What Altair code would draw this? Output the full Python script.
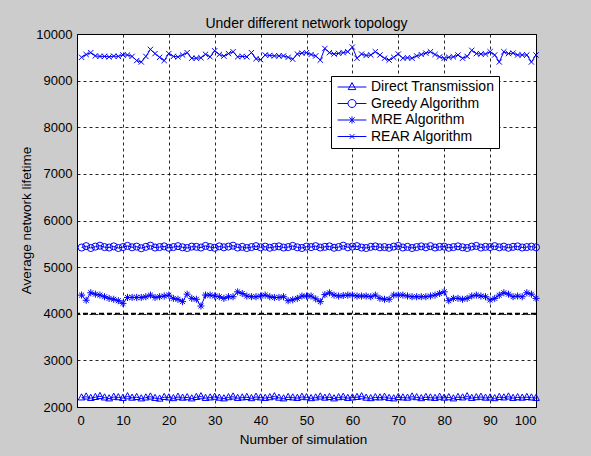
import altair as alt
import pandas as pd

runs = list(range(1, 101))
series_names = ["Direct Transmission", "Greedy Algorithm", "MRE Algorithm", "REAR Algorithm"]

direct = [2200, 2220, 2190, 2210, 2230, 2200, 2180, 2215, 2205, 2190,
          2225, 2195, 2210, 2180, 2200, 2220, 2190, 2175, 2210, 2200,
          2185, 2215, 2195, 2205, 2180, 2210, 2225, 2190, 2200, 2215,
          2195, 2180, 2205, 2220, 2190, 2200, 2210, 2185, 2215, 2200,
          2190, 2205, 2225, 2195, 2180, 2210, 2200, 2190, 2215, 2205,
          2185, 2200, 2220, 2195, 2210, 2180, 2205, 2215, 2190, 2200,
          2210, 2225, 2195, 2185, 2205, 2200, 2215, 2190, 2180, 2210,
          2200, 2195, 2220, 2205, 2185, 2210, 2200, 2190, 2215, 2195,
          2205, 2180, 2210, 2200, 2225, 2190, 2205, 2215, 2195, 2200,
          2185, 2210, 2200, 2220, 2190, 2205, 2195, 2210, 2200, 2190]

greedy = [5420, 5450, 5410, 5440, 5460, 5430, 5420, 5445, 5410, 5430,
          5455, 5425, 5440, 5405, 5435, 5460, 5420, 5430, 5445, 5415,
          5430, 5450, 5425, 5410, 5440, 5435, 5420, 5455, 5430, 5415,
          5445, 5425, 5440, 5460, 5420, 5435, 5410, 5430, 5450, 5425,
          5440, 5415, 5435, 5445, 5420, 5430, 5455, 5425, 5410, 5440,
          5430, 5450, 5420, 5435, 5445, 5415, 5430, 5460, 5425, 5440,
          5450, 5420, 5410, 5435, 5445, 5425, 5430, 5415, 5440, 5455,
          5420, 5435, 5410, 5430, 5445, 5425, 5450, 5420, 5435, 5440,
          5415, 5430, 5445, 5425, 5410, 5440, 5455, 5420, 5435, 5430,
          5450, 5425, 5440, 5415, 5435, 5445, 5420, 5430, 5440, 5425]

mre = [4400, 4290, 4450, 4420, 4400, 4365, 4330, 4310, 4280, 4223,
       4350, 4350, 4350, 4350, 4365, 4400, 4350, 4365, 4380, 4400,
       4330, 4310, 4260, 4420, 4330, 4310, 4166, 4400, 4400, 4380,
       4365, 4330, 4365, 4365, 4470, 4435, 4380, 4365, 4365, 4380,
       4400, 4365, 4350, 4350, 4365, 4280, 4300, 4330, 4380, 4380,
       4380, 4320, 4260, 4410, 4450, 4400, 4380, 4390, 4400, 4400,
       4380, 4380, 4380, 4365, 4400, 4330, 4310, 4310, 4400, 4400,
       4400, 4380, 4365, 4365, 4365, 4365, 4380, 4400, 4435, 4470,
       4280, 4330, 4330, 4310, 4330, 4380, 4400, 4380, 4365, 4295,
       4330, 4400, 4450, 4420, 4365, 4380, 4365, 4450, 4420, 4330]

rear = [9500, 9560, 9600, 9530, 9520, 9520, 9510, 9525, 9520, 9550,
        9550, 9520, 9430, 9400, 9520, 9670, 9580, 9500, 9430, 9580,
        9520, 9510, 9550, 9600, 9480, 9480, 9490, 9565, 9510, 9640,
        9560, 9525, 9580, 9620, 9510, 9520, 9510, 9600, 9470, 9450,
        9550, 9540, 9530, 9530, 9530, 9500, 9460, 9570, 9590, 9600,
        9560, 9530, 9440, 9690, 9600, 9570, 9585, 9600, 9620, 9720,
        9480, 9570, 9540, 9550, 9620, 9550, 9480, 9440, 9500, 9570,
        9480, 9490, 9480, 9530, 9560, 9590, 9620, 9560, 9510, 9480,
        9500, 9510, 9550, 9480, 9520, 9650, 9580, 9570, 9570, 9620,
        9550, 9400, 9620, 9580, 9590, 9550, 9550, 9550, 9400, 9550]

x_ticks = list(range(0, 101, 10))
y_ticks = list(range(2000, 10001, 1000))
bold_grid = [4000]

rows = []
for name, vals in zip(series_names, [direct, greedy, mre, rear]):
    for r, v in zip(runs, vals):
        rows.append({"run": r, "value": v, "series": name})
df = pd.DataFrame(rows)
grid_df = pd.DataFrame({"value": bold_grid})

BLUE = "#0000ff"
FONT = "Liberation Sans"

point_shapes = [
    "M0,-1.1L0.95,0.65L-0.95,0.65Z",
    "circle",
    "M-1,0L1,0M0,-1L0,1M-0.7,-0.7L0.7,0.7M-0.7,0.7L0.7,-0.7",
    "M-0.75,-0.75L0.75,0.75M-0.75,0.75L0.75,-0.75",
]
LINE = "M-3.6,0L3.6,0"
legend_shapes = [
    LINE + "M0,-1.1L0.95,0.65L-0.95,0.65Z",
    "M-3.6,0L-1,0M1,0L3.6,0M1,0A1,1,0,1,1,-1,0A1,1,0,1,1,1,0",
    LINE + "M0,-0.9L0,0.9M-0.65,-0.65L0.65,0.65M-0.65,0.65L0.65,-0.65",
    LINE + "M-0.6,-0.6L0.6,0.6M-0.6,0.6L0.6,-0.6",
]

x_enc = alt.X("run:Q", scale=alt.Scale(domain=[0, 100], nice=False),
              axis=alt.Axis(values=x_ticks, title="Number of simulation", format="d",
                            labelPadding=7, titleX=226, titleY=32,
                            titleBaseline="middle"))
y_enc = alt.Y("value:Q", scale=alt.Scale(domain=[2000, 10000], nice=False, zero=False),
              axis=alt.Axis(values=y_ticks, title="Average network lifetime", format="d",
                            labelPadding=5, titleX=-51, titleY=186,
                            titleBaseline="middle"))

base = alt.Chart(df)

rule = alt.Chart(grid_df).mark_rule(color="black", strokeDash=[5, 3], strokeWidth=2).encode(y=y_enc)

lines = base.mark_line(color=BLUE, strokeWidth=1).encode(
    x=x_enc, y=y_enc, detail="series:N")

points = base.mark_point(color=BLUE, filled=False, size=50, strokeWidth=1, opacity=1).encode(
    x=x_enc, y=y_enc,
    shape=alt.Shape("series:N", scale=alt.Scale(domain=series_names, range=point_shapes), legend=None))

legend_layer = base.mark_point(color=BLUE, filled=False, opacity=0).encode(
    x=x_enc, y=y_enc,
    shape=alt.Shape("series:N",
                    scale=alt.Scale(domain=series_names, range=legend_shapes),
                    legend=alt.Legend(title=None, orient="none", legendX=254, legendY=42,
                                      fillColor="white", strokeColor="black", padding=4,
                                      cornerRadius=0, symbolSize=64, symbolStrokeWidth=1,
                                      symbolStrokeColor=BLUE, symbolFillColor="transparent",
                                      symbolOpacity=1, symbolOffset=10, labelOffset=12,
                                      labelFont=FONT, labelFontSize=14, labelColor="black",
                                      rowPadding=2.5)))

chart = alt.layer(rule, lines, points, legend_layer).resolve_scale(
    shape="independent"
).properties(
    width=459, height=373,
    title=alt.TitleParams("Under different network topology", font=FONT, fontSize=14,
                          fontWeight="normal", color="black", offset=7, dy=21,
                          baseline="alphabetic", anchor="middle", frame="group"),
    padding={"left": 77, "top": 34, "right": 55, "bottom": 49},
    autosize=alt.AutoSizeParams(type="none"),
    background="#cccccc",
).configure_view(
    fill="white", stroke="black", strokeWidth=1
).configure_axis(
    grid=True, gridColor="black", gridDash=[3, 3], gridOpacity=0.85, gridWidth=1,
    domain=False, ticks=False, tickSize=0,
    labelFont=FONT, labelFontSize=13, labelColor="black",
    titleFont=FONT, titleFontSize=13.5, titleFontWeight="normal", titleColor="black",
)

chart.save("out.html", embed_options={"renderer": "svg", "actions": False})
